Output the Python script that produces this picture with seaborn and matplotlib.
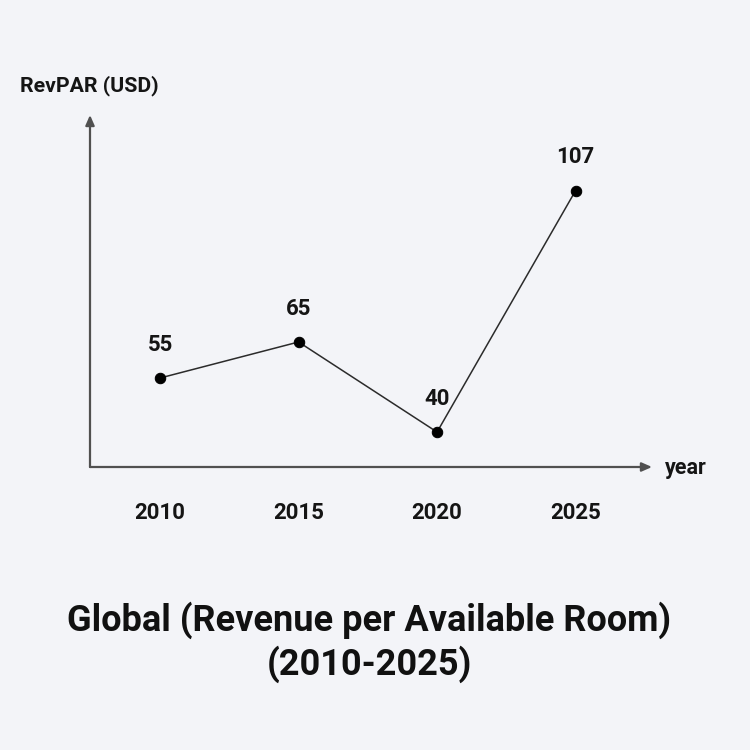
import matplotlib
matplotlib.use("Agg")
import matplotlib.pyplot as plt
import seaborn as sns
import pandas as pd

# data
years = [2010, 2015, 2020, 2025]
revpar = [55, 65, 40, 107]
point_labels = ["55", "65", "40", "107"]

df = pd.DataFrame({"year": years, "revpar": revpar})

sns.set_theme(style="white")
plt.rcParams["font.family"] = ["Roboto", "DejaVu Sans"]
plt.rcParams["font.weight"] = "bold"

bg = "#f3f4f8"
fig = plt.figure(figsize=(7.5, 7.5), dpi=100, facecolor=bg)
ax = fig.add_axes([90 / 750, 1 - 467 / 750, 562 / 750, 352 / 750])
ax.set_facecolor(bg)

sns.lineplot(data=df, x="year", y="revpar", ax=ax, color="#2b2b2b",
             linewidth=1.1, marker="o", markersize=7.5,
             markeredgecolor="#000000", markerfacecolor="#000000")

ax.set_xlim(2007.47, 2027.76)
ax.set_ylim(30.3, 128)

for s in ax.spines.values():
    s.set_visible(False)

# axis arrows
arrow = dict(arrowstyle="-|>,head_length=0.5,head_width=0.22", color="#505050",
             lw=1.6, shrinkA=0, shrinkB=0)
ax.annotate("", xy=(1, 0), xytext=(0, 0), xycoords="axes fraction",
            textcoords="axes fraction", arrowprops=arrow, annotation_clip=False)
ax.annotate("", xy=(0, 1), xytext=(0, 0), xycoords="axes fraction",
            textcoords="axes fraction", arrowprops=arrow, annotation_clip=False)

ax.set_xticks(years)
ax.set_xticklabels([str(y) for y in years], fontsize=16, fontweight="bold",
                   color="#151515")
ax.set_yticks([])
ax.tick_params(axis="x", length=0, pad=25)
ax.set_xlabel("")
ax.set_ylabel("")

# point labels
for x, y, t in zip(years, revpar, point_labels):
    ax.annotate(t, xy=(x, y), xytext=(0, 24), textcoords="offset points",
                ha="center", va="center", fontsize=16, fontweight="bold",
                color="#151515")

# axis titles
fig.text(20 / 750, 1 - 86 / 750, "RevPAR (USD)", ha="left", va="center",
         fontsize=15.3, fontweight="bold", color="#151515")
fig.text(665 / 750, 1 - 468 / 750, "year", ha="left", va="center",
         fontsize=15.5, fontweight="bold", color="#151515")

# chart title
fig.text(369 / 750, 1 - 642 / 750,
         "Global (Revenue per Available Room)\n(2010-2025)",
         ha="center", va="center", fontsize=26, fontweight="bold",
         color="#111111", linespacing=1.2)

fig.savefig("out.png", dpi=100, facecolor=bg)
